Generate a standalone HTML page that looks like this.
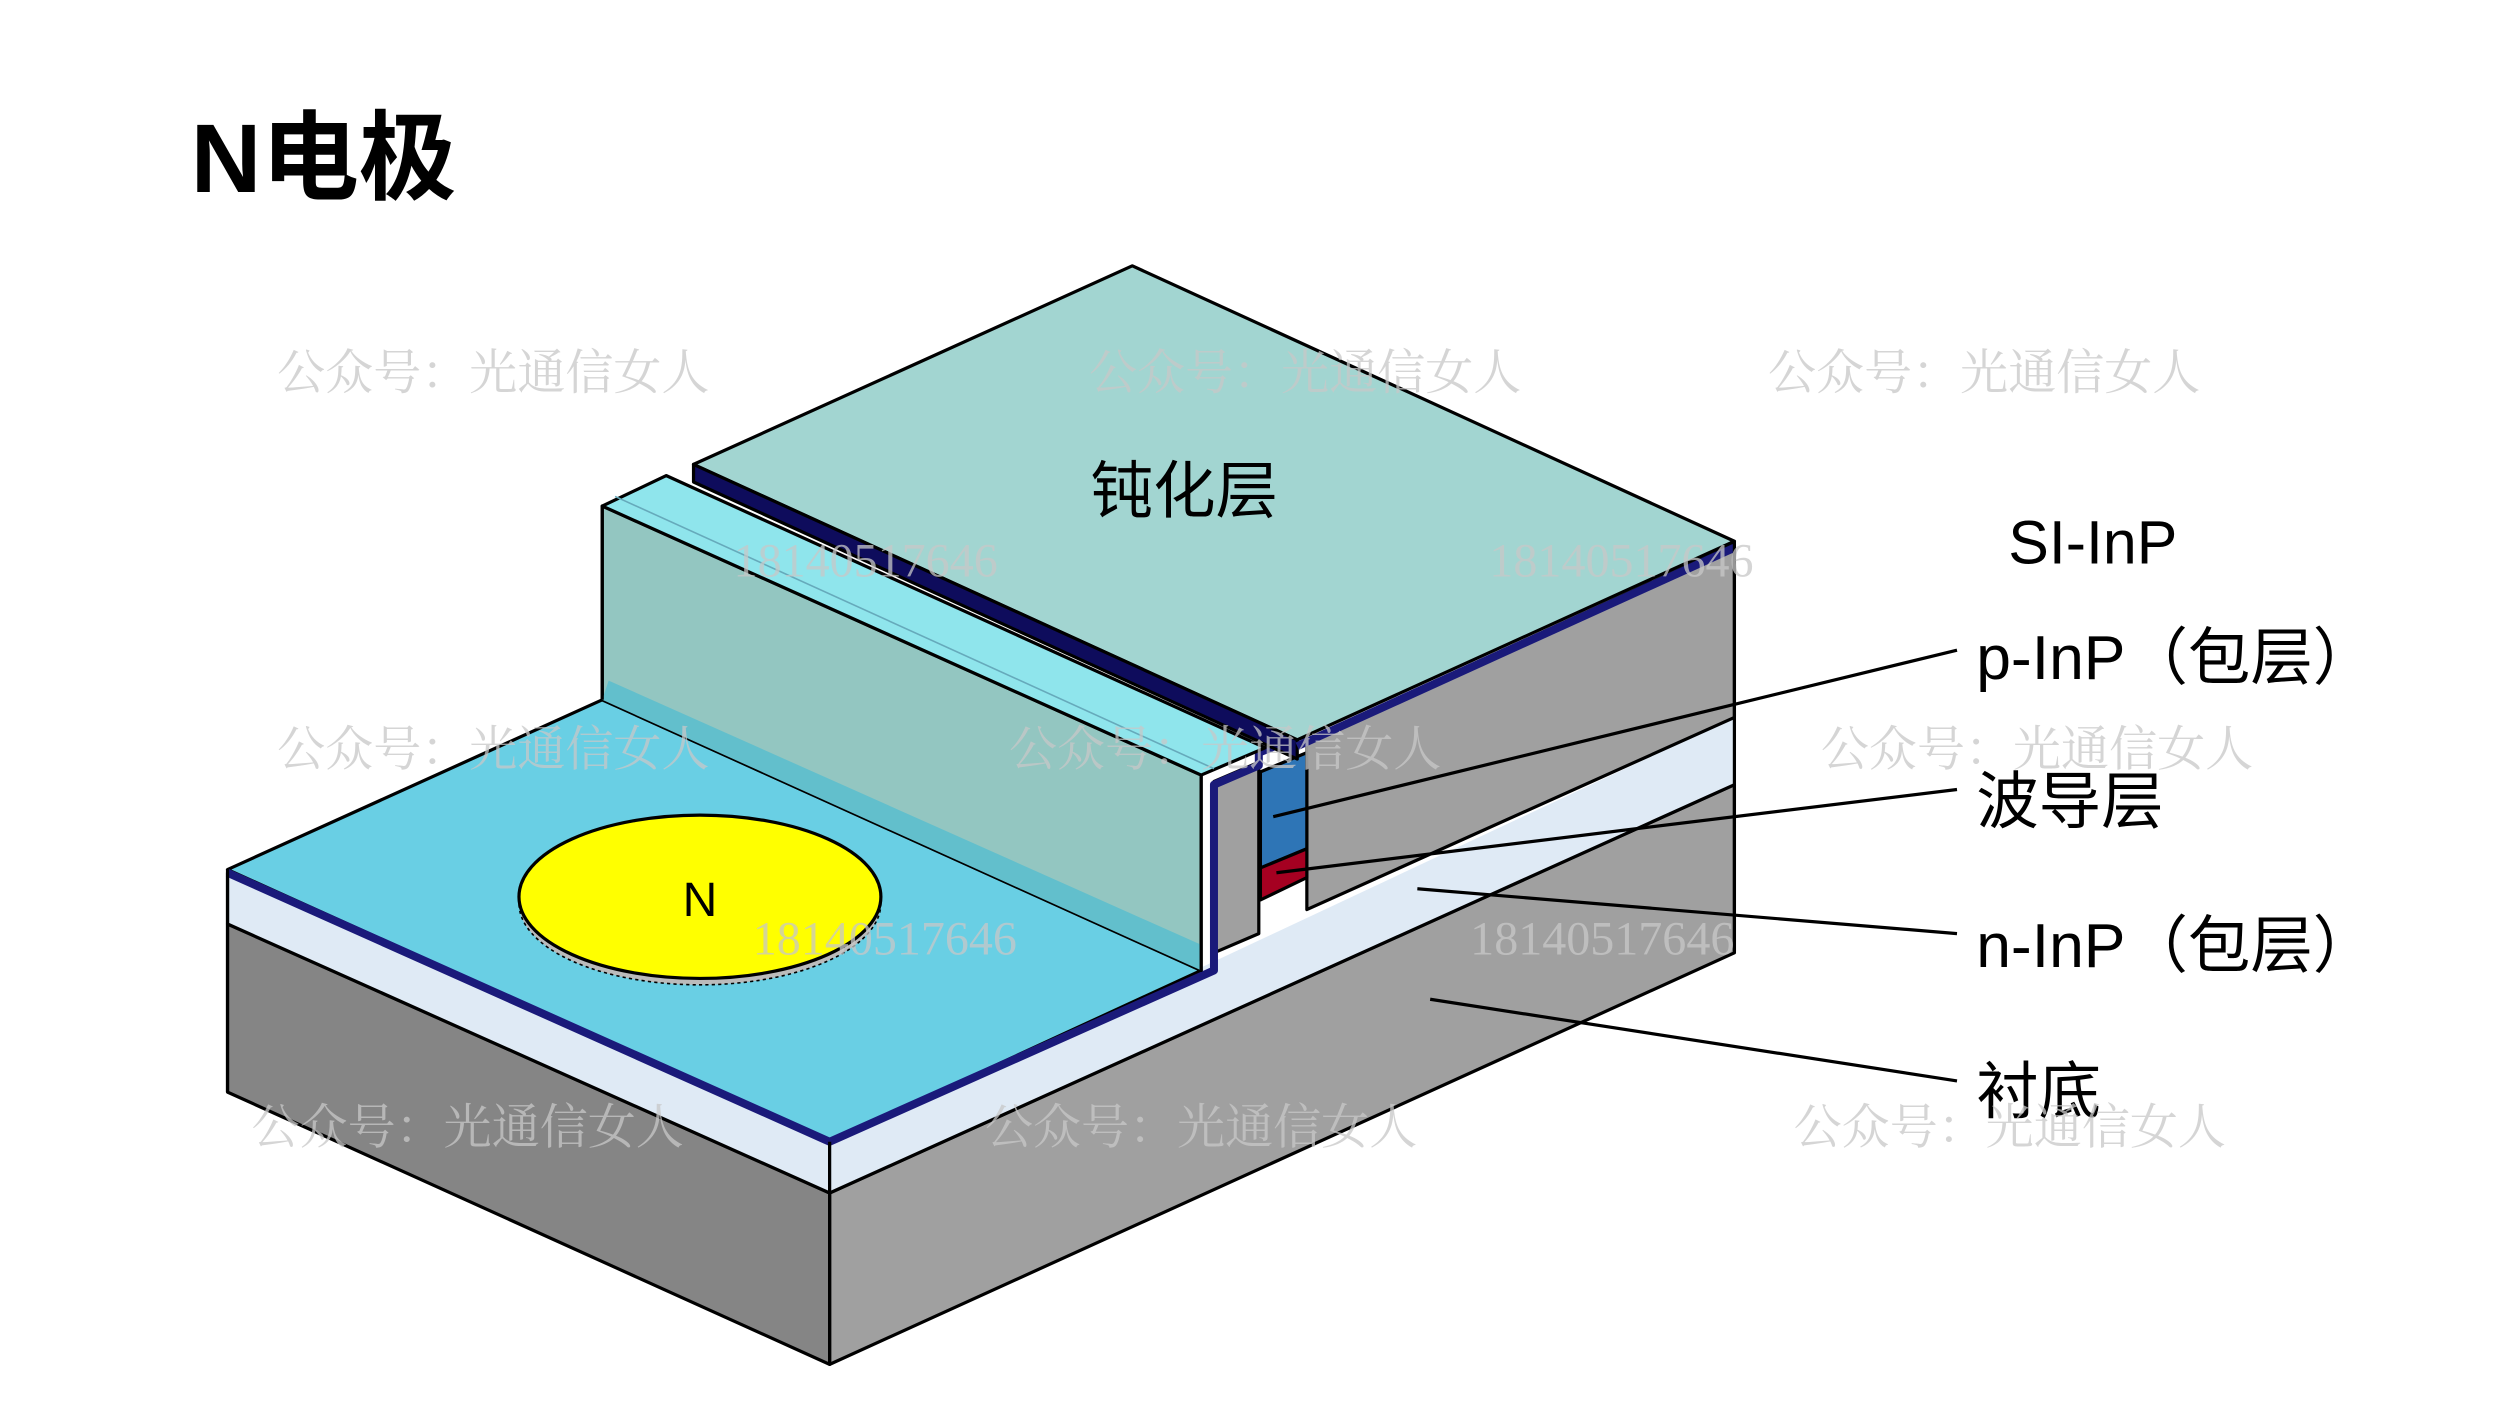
<!DOCTYPE html>
<html><head><meta charset="utf-8"><style>
html,body{margin:0;padding:0;background:#fff;}
svg{display:block;}
text{font-family:"Liberation Sans","Noto Sans CJK SC",sans-serif;}
.wm{font-family:"Liberation Serif","Noto Serif CJK SC",serif;fill:#c8c8c8;opacity:0.75;font-size:30px;}
</style></head><body>
<svg width="2500" height="1406" viewBox="0 0 1561 878" xmlns="http://www.w3.org/2000/svg">
<rect width="1561" height="878" fill="#fff"/>
<g stroke="#000" stroke-width="2" stroke-linejoin="round">
<!-- substrate -->
<polygon points="142,577 518,745 518,852 142,682" fill="#858585"/>
<polygon points="518,745 1083,490 1083,595 518,852" fill="#a0a0a0"/>
<!-- n-InP -->
<polygon points="142,545 518,713 518,745 142,577" fill="#dfeaf5"/>
<polygon points="518,713 1083,448 1083,490 518,745" fill="#dfeaf5" stroke="none"/>
<line x1="518" y1="745" x2="1083" y2="490"/>
<!-- right gray face -->
<polygon points="816,462 1083,340 1083,448 816,568" fill="#a0a0a0"/>
<!-- mesa -->
<polygon points="787,482 816,470 816,530 787,542" fill="#2e75b6"/>
<polygon points="787,542 816,530 816,548 787,562" fill="#a50021"/>
<!-- left gray block -->
<polygon points="758,488 786,476 786,583 758,595" fill="#a0a0a0"/>
<!-- N region top -->
<polygon points="142,543 376,437 750,606 518,713" fill="#69cfe4"/>
<polyline points="142,545 518,713 758,606 758,490 786,478 786,470 816,458" fill="none" stroke="#1a1a7a" stroke-width="5"/>
<line x1="142" y1="543" x2="142" y2="682" />
<!-- left ridge -->
<polygon points="376,316 750,484 750,606 376,437" fill="#93c6c1"/>
<polygon points="380,425 750,590 750,606 376,437" fill="#62bfcc" stroke="none"/>
<polygon points="376,316 416,297 790,467 750,484" fill="#8fe5ec"/>
<line x1="384" y1="310" x2="758" y2="480" stroke="#6ab" stroke-width="1"/>
<line x1="376" y1="316" x2="376" y2="437"/>
<line x1="750" y1="484" x2="750" y2="606"/>
<!-- big passivation top -->
<polygon points="433,290 707,166 1083,338 810,462" fill="#a2d5d1"/>
<polygon points="433,290 810,462 810,474 433,301" fill="#0e0c5c"/>
<line x1="810" y1="466" x2="1083" y2="342" stroke="#1a1a7a" stroke-width="5"/>
<line x1="1083" y1="338" x2="1083" y2="595"/>
<line x1="518" y1="713" x2="518" y2="852"/>
</g>
<!-- ellipse -->
<ellipse cx="437" cy="564" rx="113" ry="51" fill="#bbb" stroke="#000" stroke-width="1" stroke-dasharray="2,2"/>
<ellipse cx="437" cy="560" rx="113" ry="51" fill="#ffff00" stroke="#000" stroke-width="2"/>
<text x="437" y="572" font-size="30" text-anchor="middle">N</text>
<!-- leader lines -->
<g stroke="#000" stroke-width="2">
<line x1="1222" y1="406" x2="795" y2="510"/>
<line x1="1222" y1="493" x2="797" y2="545"/>
<line x1="1222" y1="583" x2="885" y2="555"/>
<line x1="1222" y1="675" x2="893" y2="624"/>
</g>
<!-- text -->
<text x="119" y="120" font-size="61" font-weight="bold">N电极</text>
<text x="681" y="320" font-size="39">钝化层</text>
<text x="1254" y="352" font-size="38">SI-InP</text>
<text x="1234" y="424" font-size="39">p-InP（包层）</text>
<text x="1234" y="514" font-size="39">波导层</text>
<text x="1234" y="604" font-size="39">n-InP（包层）</text>
<text x="1234" y="695" font-size="39">衬底</text>
<!-- watermarks -->
<text class="wm" x="173" y="243">公众号：光通信女人</text>
<text class="wm" x="680" y="243">公众号：光通信女人</text>
<text class="wm" x="1104" y="243">公众号：光通信女人</text>
<text class="wm" x="173" y="478">公众号：光通信女人</text>
<text class="wm" x="630" y="478">公众号：光通信女人</text>
<text class="wm" x="1137" y="478">公众号：光通信女人</text>
<text class="wm" x="157" y="714">公众号：光通信女人</text>
<text class="wm" x="615" y="714">公众号：光通信女人</text>
<text class="wm" x="1120" y="714">公众号：光通信女人</text>
<text class="wm" x="458" y="360">18140517646</text>
<text class="wm" x="930" y="360">18140517646</text>
<text class="wm" x="470" y="596">18140517646</text>
<text class="wm" x="918" y="596">18140517646</text>
</svg>
</body></html>
